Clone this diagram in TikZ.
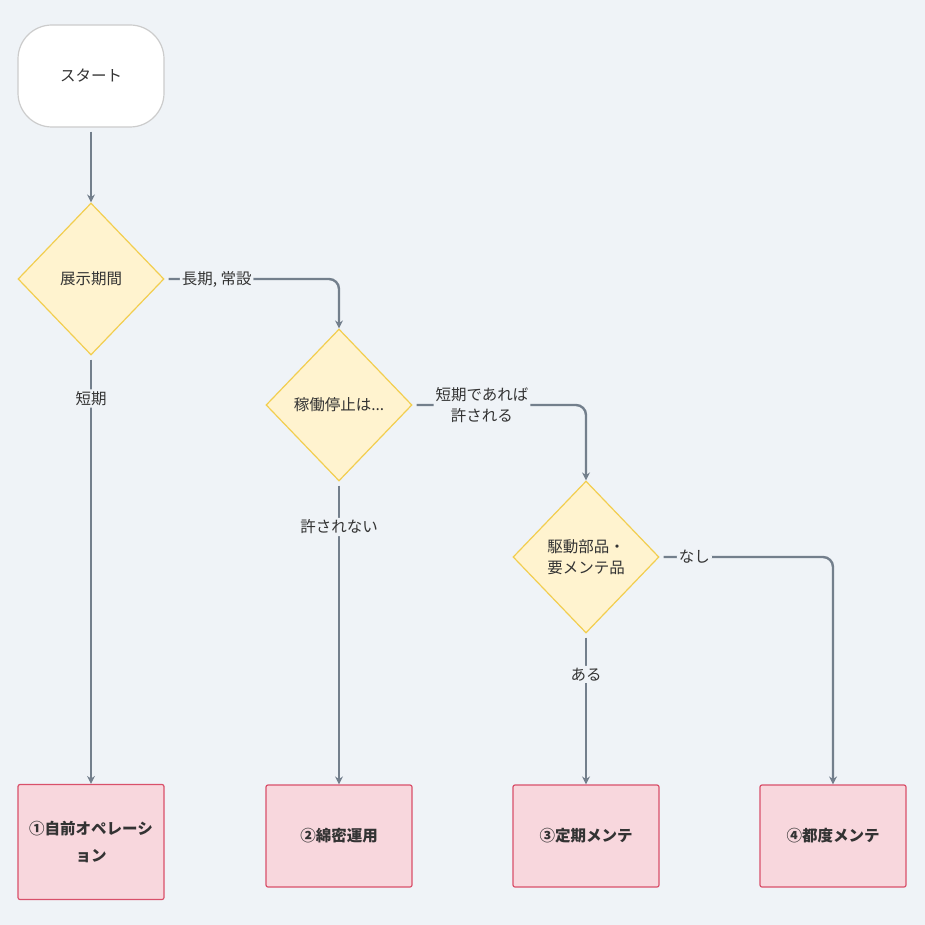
\documentclass[tikz,border=0pt]{standalone}
\usepackage{fontspec}
\setmainfont{Noto Sans CJK JP}
\usetikzlibrary{shapes.geometric,arrows.meta}
\definecolor{bg}{HTML}{EFF3F7}
\definecolor{dfill}{HTML}{FFF3CF}
\definecolor{dline}{HTML}{F2CE4F}
\definecolor{bfill}{HTML}{F8D7DD}
\definecolor{bline}{HTML}{D9506A}
\definecolor{edge}{HTML}{737F8C}
\definecolor{txt}{HTML}{333333}
\begin{document}
\begin{tikzpicture}[x=1pt,y=-1pt,
  every node/.style={text=txt,font=\fontsize{15.5}{21}\selectfont},
  dec/.style={diamond,draw=dline,fill=dfill,line width=1.2pt,minimum width=146pt,minimum height=152pt,inner sep=0pt,align=center,aspect=0.96},
  res/.style={draw=bline,fill=bfill,line width=1.2pt,rounded corners=2pt,minimum width=146pt,minimum height=102pt,align=center,font=\bfseries\fontsize{15.5}{27}\selectfont},
  lab/.style={fill=bg,inner sep=2pt,align=center},
  ar/.style={draw=edge,line width=2.4pt,rounded corners=10pt,shorten <=4pt,-{Stealth[length=8pt,width=8pt]}}]
\fill[bg] (0,0) rectangle (925,925);
\node[draw=black!20,fill=white,line width=1.2pt,rounded corners=34pt,minimum width=146pt,minimum height=102pt] (s) at (91,76) {スタート};
\node[dec] (d1) at (91,279) {展示期間};
\node[dec] (d2) at (339,405) {稼働停止は...};
\node[dec] (d3) at (586,557) {駆動部品・\\要メンテ品};
\node[res,minimum height=115pt] (b1) at (91,842) {①自前オペレーシ\\ョン};
\node[res] (b2) at (339,836) {②綿密運用};
\node[res] (b3) at (586,836) {③定期メンテ};
\node[res] (b4) at (833,836) {④都度メンテ};
\coordinate (c1) at (339,279);
\coordinate (c2) at (586,405);
\coordinate (c3) at (833,557);
\draw[ar] (s) -- (d1);
\draw[ar] (d1) -- node[lab,pos=0.08,anchor=west] {長期, 常設} (c1) -- (d2);
\draw[ar] (d1) -- node[lab,pos=0.1] {短期} (b1);
\draw[ar] (d2) -- node[lab,pos=0.4] {短期であれば\\許される} (c2) -- (d3);
\draw[ar] (d2) -- node[lab,pos=0.15] {許されない} (b2);
\draw[ar] (d3) -- node[lab,pos=0.2] {なし} (c3) -- (b4);
\draw[ar] (d3) -- node[lab,pos=0.27] {ある} (b3);
\end{tikzpicture}
\end{document}
